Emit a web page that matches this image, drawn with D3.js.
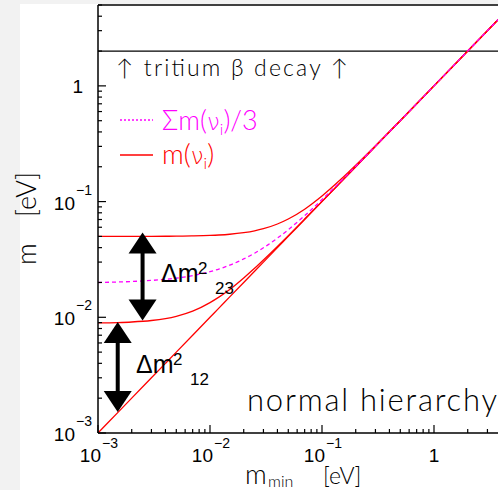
<!DOCTYPE html>
<html>
<head>
<meta charset="utf-8">
<script src="https://cdn.jsdelivr.net/npm/d3@7"></script>
<style>
  body { margin: 0; background: #f2f2f2; }
  svg { display: block; }
  .geo { font-family: Lato, "DejaVu Sans", sans-serif; font-weight: 300; }
  .helv { font-family: "Liberation Sans", Arial, sans-serif; }
  .nu { font-family: "DejaVu Sans", sans-serif; font-weight: 200; }
</style>
</head>
<body>
<svg id="chart" width="498" height="490"></svg>
<script>
// lightest neutrino mass (eV) and the masses
var mMin = [0.001, 0.0015, 0.002, 0.003, 0.004, 0.005, 0.007, 0.01, 0.012, 0.015, 0.02, 0.025,
            0.03, 0.04, 0.05, 0.07, 0.1, 0.15, 0.2, 0.3, 0.5, 1, 2, 5];
var m2Vals = [0.00894, 0.00901, 0.00911, 0.00938, 0.00975, 0.0102, 0.0113, 0.0134, 0.01493, 0.0174, 0.0219, 0.02653,
              0.0313, 0.04098, 0.0508, 0.0706, 0.1004, 0.1503, 0.2002, 0.3001, 0.5001, 1.0, 2.0, 5.0];
var m3Vals = [0.0500, 0.05002, 0.05004, 0.0501, 0.05016, 0.0502, 0.0505, 0.0510, 0.05142, 0.0522, 0.0539, 0.0559,
              0.0583, 0.06403, 0.0707, 0.0860, 0.1118, 0.1581, 0.2062, 0.3041, 0.5025, 1.0012, 2.0006, 5.0002];
var sumVals = [0.01998, 0.02018, 0.02038, 0.02083, 0.0213, 0.0218, 0.02293, 0.0248, 0.02612, 0.0282, 0.03193, 0.03581,
               0.03987, 0.04834, 0.05717, 0.07552, 0.1041, 0.1528, 0.2021, 0.3014, 0.5009, 1.0004, 2.0002, 5.0001];

var tritiumLimit = 2;
var xMajor = [0.001, 0.01, 0.1, 1];
var yMajor = [0.001, 0.01, 0.1, 1];
var xTickExp = ["\u22123", "\u22122", "\u22121", ""];
var yTickExp = ["\u22123", "\u22122", "\u22121", ""];

// splitting arrows: at m_min, from top value to bottom value
var arrowX = [0.0025, 0.0015];
var arrowTop = [0.054, 0.0091];
var arrowBottom = [0.0094, 0.00152];

var svg = d3.select("#chart");

var x = d3.scaleLog().domain([1e-3, 10]).range([98, 546]);
var y = d3.scaleLog().domain([1e-3, 5]).range([433, 5]);

svg.append("rect").attr("x", 20).attr("y", 4).attr("width", 478).attr("height", 486).attr("fill", "#fff");

svg.append("clipPath").attr("id", "plotClip")
  .append("rect").attr("x", x(1e-3)).attr("y", y(5)).attr("width", 450).attr("height", y(1e-3) - y(5));

var plot = svg.append("g").attr("clip-path", "url(#plotClip)");

// minor ticks
function minorTicks(lo, hi) {
  var t = [];
  for (var e = -3; e <= 1; e++) {
    for (var k = 1; k <= 9; k++) {
      var v = k * Math.pow(10, e);
      if (v >= lo && v <= hi * 1.0001) t.push(v);
    }
  }
  return t;
}

var gx = svg.append("g");
minorTicks(1e-3, 10).forEach(function(v) {
  var major = xMajor.some(function(m) { return Math.abs(m - v) < m * 1e-6; });
  gx.append("line")
    .attr("x1", x(v)).attr("x2", x(v))
    .attr("y1", y(1e-3)).attr("y2", y(1e-3) - (major ? 8 : 4))
    .attr("stroke", "#000").attr("stroke-width", 1.2);
});
var gy = svg.append("g");
minorTicks(1e-3, 5).forEach(function(v) {
  var major = yMajor.some(function(m) { return Math.abs(m - v) < m * 1e-6; });
  gy.append("line")
    .attr("x1", x(1e-3)).attr("x2", x(1e-3) + (major ? 8 : 4))
    .attr("y1", y(v)).attr("y2", y(v))
    .attr("stroke", "#000").attr("stroke-width", 1.2);
});

// frame
svg.append("line").attr("x1", x(1e-3)).attr("x2", 498).attr("y1", y(5)).attr("y2", y(5))
  .attr("stroke", "#000").attr("stroke-width", 1.5);
svg.append("line").attr("x1", x(1e-3)).attr("x2", x(1e-3)).attr("y1", y(5)).attr("y2", y(1e-3))
  .attr("stroke", "#000").attr("stroke-width", 1.5);
svg.append("line").attr("x1", x(1e-3)).attr("x2", 498).attr("y1", y(1e-3)).attr("y2", y(1e-3))
  .attr("stroke", "#000").attr("stroke-width", 1.5);

// tritium beta decay limit
plot.append("line").attr("x1", x(1e-3)).attr("x2", x(10))
  .attr("y1", y(tritiumLimit)).attr("y2", y(tritiumLimit))
  .attr("stroke", "#000").attr("stroke-width", 1.3);

// tick labels
xMajor.forEach(function(v, i) {
  if (xTickExp[i] === "") {
    svg.append("text").attr("class", "helv").attr("x", x(v)).attr("y", 462)
      .attr("text-anchor", "middle").attr("font-size", 19).text("1");
  } else {
    svg.append("text").attr("class", "helv").attr("x", x(v) + 3).attr("y", 462)
      .attr("text-anchor", "end").attr("font-size", 19).text("10");
    svg.append("text").attr("class", "helv").attr("x", x(v) + 4).attr("y", 448)
      .attr("font-size", 14).text(xTickExp[i]);
  }
});
yMajor.forEach(function(v, i) {
  if (yTickExp[i] === "") {
    svg.append("text").attr("class", "helv").attr("x", 83).attr("y", y(v) + 7)
      .attr("text-anchor", "end").attr("font-size", 19).text("1");
  } else {
    svg.append("text").attr("class", "helv").attr("x", 75).attr("y", y(v) + 8)
      .attr("text-anchor", "end").attr("font-size", 19).text("10");
    svg.append("text").attr("class", "helv").attr("x", 76).attr("y", y(v) - 7)
      .attr("font-size", 14).text(yTickExp[i]);
  }
});

// axis titles
svg.append("text").attr("class", "geo").attr("font-size", 27)
  .attr("transform", "translate(36,265) rotate(-90)").text("m");
svg.append("text").attr("class", "geo").attr("font-size", 27).attr("text-anchor", "end")
  .attr("transform", "translate(36,172) rotate(-90)").text("[eV]");
svg.append("text").attr("class", "geo").attr("font-size", 27).attr("x", 245).attr("y", 484).text("m");
svg.append("text").attr("class", "geo").attr("font-size", 16).attr("x", 268).attr("y", 487).text("min");
svg.append("text").attr("class", "geo").attr("font-size", 23).attr("x", 323).attr("y", 484).text("[eV]");

// mass curves
var line = d3.line()
  .x(function(d) { return x(d[0]); })
  .y(function(d) { return y(d[1]); })
  .curve(d3.curveMonotoneX);

[mMin, m2Vals, m3Vals].forEach(function(vals) {
  plot.append("path")
    .datum(mMin.map(function(m, i) { return [m, vals[i]]; }))
    .attr("d", line).attr("fill", "none")
    .attr("stroke", "#ff0000").attr("stroke-width", 1.3);
});
plot.append("path")
  .datum(mMin.map(function(m, i) { return [m, sumVals[i]]; }))
  .attr("d", line).attr("fill", "none")
  .attr("stroke", "#ff00ff").attr("stroke-width", 1.3).attr("stroke-dasharray", "4,3");

// arrows
arrowX.forEach(function(a, i) {
  var cx = x(a), yt = y(arrowTop[i]), yb = y(arrowBottom[i]);
  var hw = 14, hl = 21;
  svg.append("line").attr("x1", cx).attr("x2", cx).attr("y1", yt + hl - 1).attr("y2", yb - hl + 1)
    .attr("stroke", "#000").attr("stroke-width", 4);
  svg.append("path").attr("d", "M" + cx + "," + yt + "L" + (cx + hw) + "," + (yt + hl) + "L" + (cx - hw) + "," + (yt + hl) + "Z");
  svg.append("path").attr("d", "M" + cx + "," + yb + "L" + (cx + hw) + "," + (yb - hl) + "L" + (cx - hw) + "," + (yb - hl) + "Z");
});

// splitting labels
function deltaLabel(x0, base, sub) {
  svg.append("text").attr("class", "helv").attr("font-size", 25).attr("x", x0).attr("y", base).text("\u0394m");
  svg.append("text").attr("class", "helv").attr("font-size", 17).attr("x", x0 + 37).attr("y", base - 8).text("2");
  svg.append("text").attr("class", "helv").attr("font-size", 17).attr("x", x0 + 54).attr("y", base + 12).text(sub);
}
deltaLabel(161, 282, "23");
deltaLabel(136, 373, "12");

// tritium text
svg.append("text").attr("class", "geo").attr("font-size", 23).attr("x", 116).attr("y", 76)
  .attr("textLength", 232).attr("lengthAdjust", "spacing")
  .text("\u2191 tritium \u03b2 decay \u2191");

// legend
svg.append("line").attr("x1", 120).attr("x2", 153).attr("y1", 120).attr("y2", 120)
  .attr("stroke", "#ff00ff").attr("stroke-width", 1.3).attr("stroke-dasharray", "2,2");
svg.append("line").attr("x1", 120).attr("x2", 153).attr("y1", 155).attr("y2", 155)
  .attr("stroke", "#ff0000").attr("stroke-width", 1.5);
var t1 = svg.append("text").attr("class", "geo").attr("font-size", 27).attr("x", 162).attr("y", 130).attr("fill", "#ff00ff");
t1.append("tspan").text("\u03a3m(");
t1.append("tspan").attr("class", "nu").attr("font-size", 23).text("\u03bd");
t1.append("tspan").attr("font-size", 16).attr("dy", 5).text("i");
t1.append("tspan").attr("dy", -5).text(")/3");
var t2 = svg.append("text").attr("class", "geo").attr("font-size", 27).attr("x", 162).attr("y", 164).attr("fill", "#ff0000");
t2.append("tspan").text("m(");
t2.append("tspan").attr("class", "nu").attr("font-size", 23).text("\u03bd");
t2.append("tspan").attr("font-size", 16).attr("dy", 5).text("i");
t2.append("tspan").attr("dy", -5).text(")");

// hierarchy label
svg.append("text").attr("class", "geo").attr("font-size", 31).attr("x", 247).attr("y", 411)
  .attr("textLength", 250).attr("lengthAdjust", "spacing")
  .text("normal hierarchy");
</script>
</body>
</html>
